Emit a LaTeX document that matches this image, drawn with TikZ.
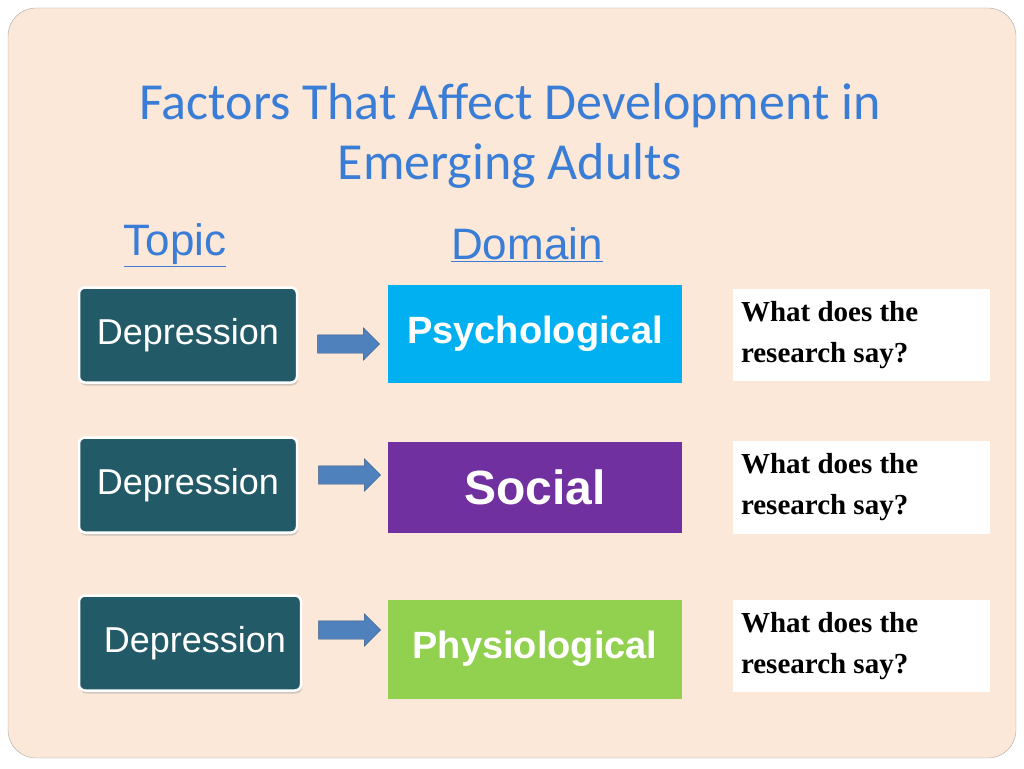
\documentclass[tikz,border=0pt]{standalone}
\usepackage{fontspec}
\setmainfont{Liberation Serif}
\setsansfont{Liberation Sans}
\newfontfamily\titlefont{Carlito}
\usetikzlibrary{shapes.arrows,shadows}
\definecolor{bgpeach}{HTML}{FBE8D8}
\definecolor{titleblue}{HTML}{3A7DD6}
\definecolor{tealbox}{HTML}{235A67}
\definecolor{arrowblue}{HTML}{4F81BD}
\definecolor{psyblue}{HTML}{00B0F0}
\definecolor{socpurple}{HTML}{7030A0}
\definecolor{phygreen}{HTML}{92D050}
\tikzset{
  topicbox/.style={draw=white,line width=2.5pt,fill=tealbox,rounded corners=6pt,minimum width=218pt,minimum height=95pt,
    text=white,font=\sffamily\fontsize{36}{42}\selectfont,drop shadow={shadow xshift=1pt,shadow yshift=-3pt,fill=black!35}},
  domainbox/.style={minimum width=294pt,minimum height=98pt,text=white,font=\sffamily\bfseries\fontsize{38}{44}\selectfont},
  saybox/.style={fill=white,minimum width=257pt,minimum height=92pt,align=flush left,text width=240pt,
    font=\bfseries\fontsize{29}{41}\selectfont},
  blockarrow/.style={single arrow,fill=arrowblue,draw=arrowblue!70!black,minimum width=32pt,minimum height=62pt,
    single arrow head extend=7pt,inner xsep=0pt,inner ysep=9pt}
}
\begin{document}
\begin{tikzpicture}[x=1pt,y=-1pt]
\useasboundingbox (0,0) rectangle (1024,768);
\draw[gray!70,fill=bgpeach,rounded corners=28pt] (8,8) rectangle (1016,758);
% title
\node[text=titleblue,font=\titlefont\fontsize{52}{60}\selectfont,align=center] (title) at (510,136)
  {Factors That Affect Development in\\Emerging Adults};
\node[text=titleblue,font=\sffamily\fontsize{44}{50}\selectfont] (topic) at (175,245) {\underline{Topic}};
\node[text=titleblue,font=\sffamily\fontsize{44}{50}\selectfont] (domain) at (527,245) {\underline{Domain}};
% rows
\node[topicbox] (dep1) at (188,335) {Depression};
\node[topicbox] (dep2) at (188,485) {Depression};
\node[topicbox,minimum width=222pt] (dep3) at (190,643) {\hspace*{10pt}Depression};
\node[blockarrow] (arr1) at (344,344) {};
\node[blockarrow] (arr2) at (345,475) {};
\node[blockarrow] (arr3) at (345,630) {};
\node[domainbox,fill=psyblue] (psy) at (535,334) {Psychological};
\node[domainbox,fill=socpurple,minimum height=91pt,font=\sffamily\bfseries\fontsize{48}{54}\selectfont] (soc) at (535,487) {Social};
\node[domainbox,fill=phygreen,minimum height=99pt] (phy) at (535,649) {Physiological};
\node[saybox] (say1) at (861,335) {What does the\\research say?};
\node[saybox,minimum height=93pt] (say2) at (861,487) {What does the\\research say?};
\node[saybox] (say3) at (861,646) {What does the\\research say?};
\end{tikzpicture}
\end{document}
